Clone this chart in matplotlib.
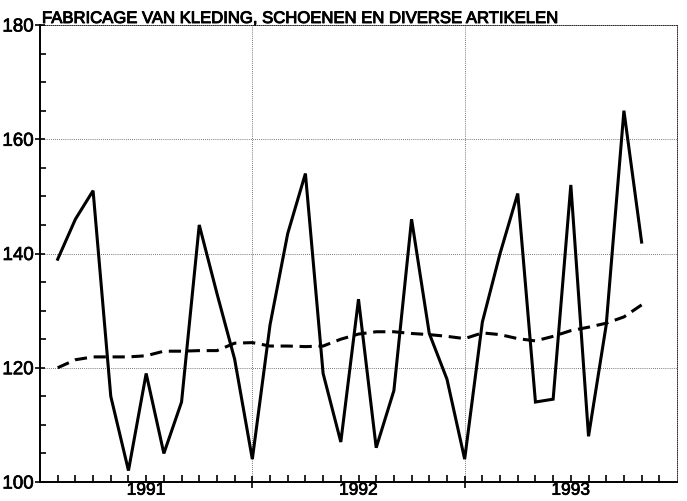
from matplotlib import pyplot as plt
from matplotlib import patheffects
from matplotlib.ticker import MultipleLocator

# monthly index, 1 .. 34 (axis covers 36 months)
months = list(range(1, 35))

production = [139, 146, 151, 115, 102, 119, 105, 114, 145, 133,
              121.5, 104, 127.5, 143.5, 154, 119, 107, 132, 106, 116,
              146, 126, 118, 104, 128, 140, 150.5, 114, 114.5, 152,
              108, 127.5, 165, 142]

trend = [120, 121.4, 121.9, 121.9, 121.9, 122.1, 122.9, 122.9, 123, 123,
         124.3, 124.4, 123.8, 123.8, 123.7, 123.8, 125, 125.9, 126.3, 126.3,
         126, 125.8, 125.5, 125.1, 126.1, 125.8, 125.1, 124.7, 125.5, 126.5,
         127.1, 127.8, 128.9, 131]

year_labels = ['1991', '1992', '1993']
year_label_pos = [6, 18, 30]
year_breaks = [12, 24]

TITLE = 'FABRICAGE VAN KLEDING, SCHOENEN EN DIVERSE ARTIKELEN'

plt.rcParams['font.family'] = ['Liberation Sans', 'DejaVu Sans']
bold_fx = [patheffects.withStroke(linewidth=0.7, foreground='black')]

fig = plt.figure(figsize=(6.87, 5.02), dpi=100)
ax = fig.add_axes([40 / 687, 1 - 483 / 502, 637 / 687, 457 / 502])

ax.plot(months, production, color='black', linewidth=2.2,
        solid_joinstyle='miter')
ax.plot(months, trend, color='black', linewidth=2.2, dashes=(4, 2.2))

ax.set_xlim(0, 36)
ax.set_ylim(100, 180)

# dotted grid
dot = (0, (1, 1.5))
for y in [120, 140, 160]:
    ax.axhline(y, color='black', linewidth=0.6, linestyle=dot,
               alpha=0.7, zorder=0)
for x in year_breaks:
    ax.axvline(x, color='black', linewidth=0.6, linestyle=dot,
               alpha=0.7, zorder=0)

for side in ['top', 'right']:
    ax.spines[side].set_linestyle(dot)
    ax.spines[side].set_linewidth(0.6)
for side in ['left', 'bottom']:
    ax.spines[side].set_linewidth(1.4)

ax.yaxis.set_major_locator(MultipleLocator(20))
ax.yaxis.set_minor_locator(MultipleLocator(5))
ax.tick_params(axis='y', which='major', direction='inout', length=7,
               width=1.2, labelsize=13.5, pad=1)
ax.tick_params(axis='y', which='minor', direction='in', length=4, width=1.2)

# year boundaries as major ticks, months as minor ticks carrying the labels
ax.set_xticks(year_breaks, labels=['', ''])
month_ticks = [m for m in range(1, 36) if m not in year_breaks]
month_labels = [year_labels[year_label_pos.index(m)] if m in year_label_pos
                else '' for m in month_ticks]
ax.set_xticks(month_ticks, labels=month_labels, minor=True)
ax.tick_params(axis='x', which='major', direction='inout', length=9,
               width=1.2)
ax.tick_params(axis='x', which='minor', direction='in', length=5,
               width=1.2, labelsize=12.5, pad=0.5)
ax.tick_params(right=False, top=False)

for lab in ax.get_yticklabels() + ax.get_xticklabels(minor=True):
    lab.set_path_effects([patheffects.withStroke(linewidth=0.5,
                                                 foreground='black')])

fig.text(42 / 687, 1 - 24 / 502, TITLE, fontsize=12,
         ha='left', va='baseline', color='black', path_effects=bold_fx)

fig.savefig('out.png', dpi=100)
